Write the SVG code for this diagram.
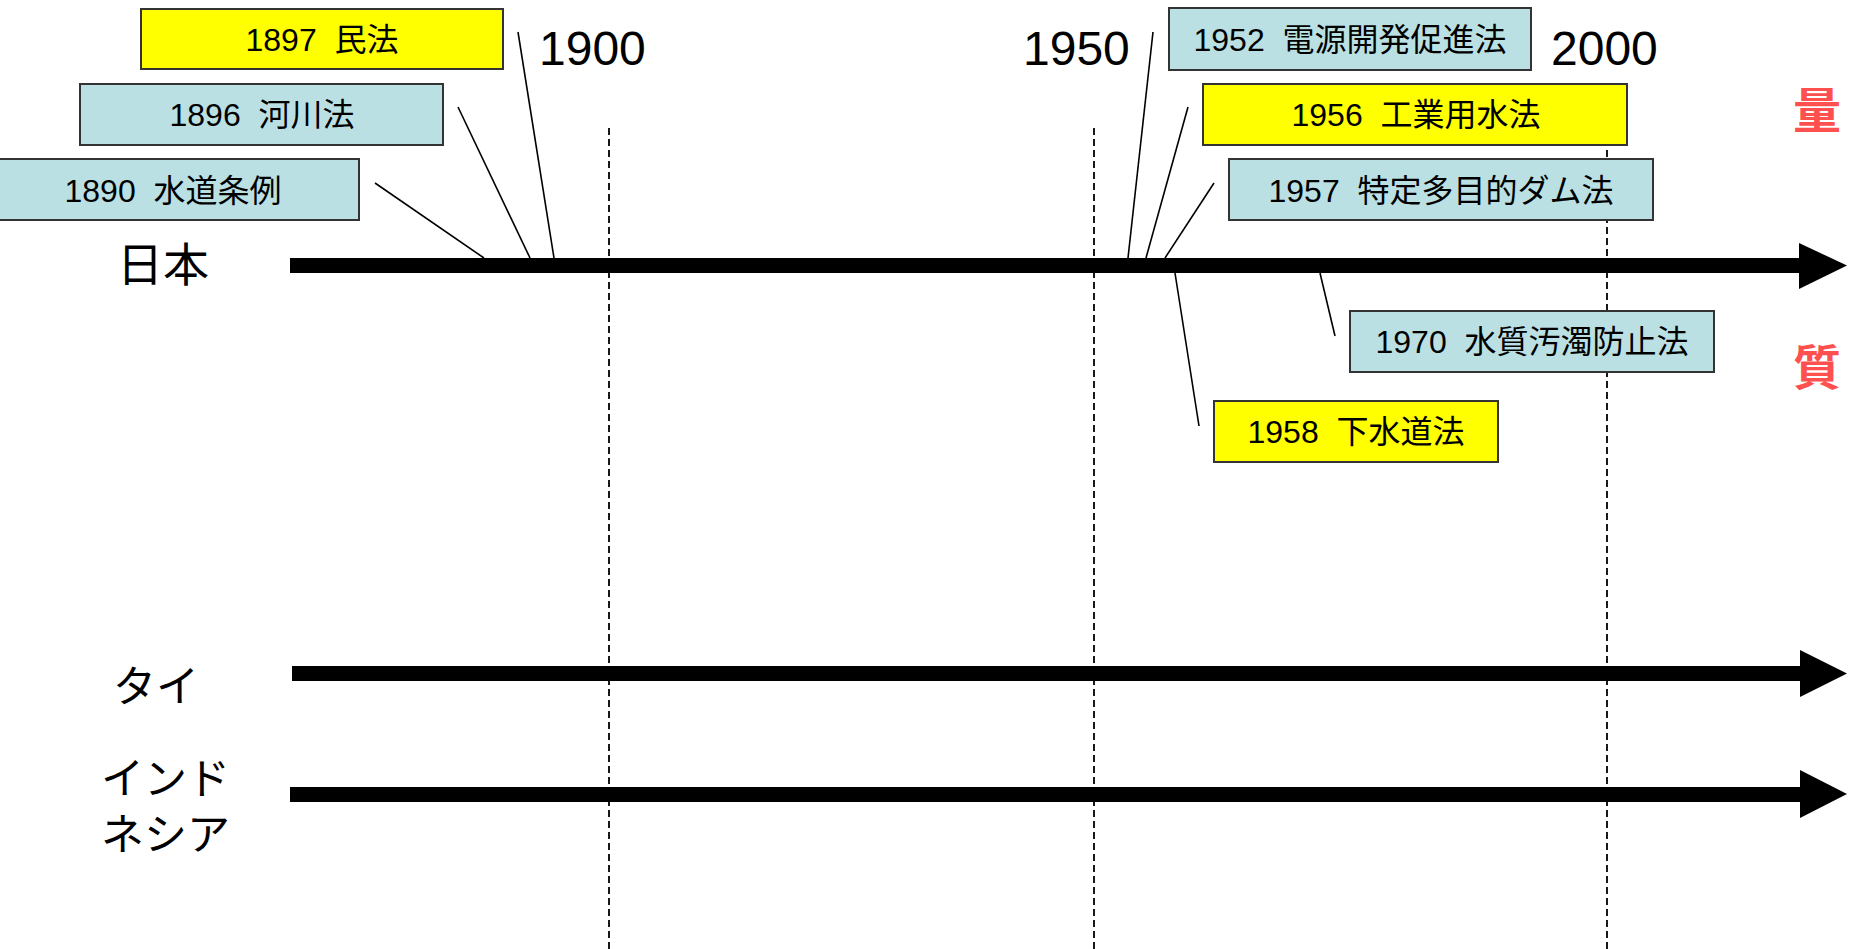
<svg xmlns="http://www.w3.org/2000/svg" width="1857" height="949" viewBox="0 0 1857 949">
<style>
text{font-family:"Liberation Sans","Noto Sans CJK JP",sans-serif;fill:#000;white-space:pre}
.box rect{stroke:#333;stroke-width:2}
.blue rect{fill:#BBE0E3}
.yel rect{fill:#FFFF00}
.box text{font-size:32px;text-anchor:middle}
.year{font-size:48px}
.country{font-size:43px;font-family:"Noto Sans CJK JP",sans-serif}
.red{font-size:48px;font-weight:bold;fill:#FF5050;font-family:"Noto Sans CJK JP",sans-serif}
.dash{stroke:#000;stroke-width:1.8;stroke-dasharray:7 4;fill:none}
.conn line{stroke:#000;stroke-width:1.6}
.bar{fill:#000}
</style>
<rect width="1857" height="949" fill="#fff"/>
<g id="gridlines">
<line class="dash" x1="609" y1="128" x2="609" y2="949"/>
<line class="dash" x1="1094" y1="128" x2="1094" y2="949"/>
<line class="dash" x1="1607" y1="128" x2="1607" y2="949"/>
</g>
<g id="years">
<text class="year" x="539" y="65">1900</text>
<text class="year" x="1023" y="65">1950</text>
<text class="year" x="1551" y="65">2000</text>
</g>
<g id="timeline-japan">
<rect class="bar" x="290" y="258" width="1512" height="15"/>
<polygon class="bar" points="1799,243 1847,265.5 1799,289"/>
<text class="country" x="117" y="281" style="font-size:46px">日本</text>
</g>
<g id="timeline-thai">
<rect class="bar" x="292" y="666" width="1510" height="15"/>
<polygon class="bar" points="1800,650 1847,673.5 1800,697"/>
<text class="country" x="113" y="702">タイ</text>
</g>
<g id="timeline-indonesia">
<rect class="bar" x="290" y="787" width="1512" height="15"/>
<polygon class="bar" points="1800,770 1847,794 1800,818"/>
<text class="country" x="101" y="794">インド</text>
<text class="country" x="101" y="850">ネシア</text>
</g>
<g id="connectors" class="conn">
<line x1="375" y1="183" x2="484" y2="258"/>
<line x1="458" y1="107" x2="530" y2="258"/>
<line x1="518" y1="32" x2="554" y2="258"/>
<line x1="1153" y1="32" x2="1128" y2="258"/>
<line x1="1188" y1="107" x2="1146" y2="258"/>
<line x1="1214" y1="183" x2="1165" y2="258"/>
<line x1="1175" y1="273" x2="1199" y2="426"/>
<line x1="1320" y1="273" x2="1335" y2="336"/>
</g>
<g id="law-1897" class="box yel">
<rect x="141" y="9" width="362" height="60"/>
<text x="322" y="51" xml:space="preserve">1897  民法</text>
</g>
<g id="law-1896" class="box blue">
<rect x="80" y="84" width="363" height="61"/>
<text x="262" y="126" xml:space="preserve">1896  河川法</text>
</g>
<g id="law-1890" class="box blue">
<rect x="-2" y="159" width="361" height="61"/>
<text x="173" y="202" xml:space="preserve">1890  水道条例</text>
</g>
<g id="law-1952" class="box blue">
<rect x="1169" y="8" width="362" height="62"/>
<text x="1350" y="51" xml:space="preserve">1952  電源開発促進法</text>
</g>
<g id="law-1956" class="box yel">
<rect x="1203" y="84" width="424" height="61"/>
<text x="1416" y="126" xml:space="preserve">1956  工業用水法</text>
</g>
<g id="law-1957" class="box blue">
<rect x="1229" y="159" width="424" height="61"/>
<text x="1441" y="202" xml:space="preserve">1957  特定多目的ダム法</text>
</g>
<g id="law-1970" class="box blue">
<rect x="1350" y="311" width="364" height="61"/>
<text x="1532" y="353" xml:space="preserve">1970  水質汚濁防止法</text>
</g>
<g id="law-1958" class="box yel">
<rect x="1214" y="401" width="284" height="61"/>
<text x="1356" y="443" xml:space="preserve">1958  下水道法</text>
</g>
<g id="side-labels">
<text class="red" x="1793" y="128">量</text>
<text class="red" x="1793" y="385">質</text>
</g>
</svg>
